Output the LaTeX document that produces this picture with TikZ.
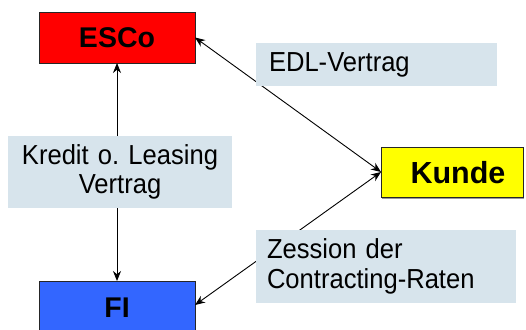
\documentclass[tikz,border=0pt]{standalone}
\usepackage{fontspec}
\setmainfont{Liberation Sans}
\newfontfamily\notefont[FakeStretch=0.93]{Liberation Sans}
\usetikzlibrary{arrows.meta,shadows}
\definecolor{escored}{HTML}{FF0000}
\definecolor{kundeyellow}{HTML}{FFFF00}
\definecolor{fiblue}{HTML}{3366FF}
\definecolor{notebg}{HTML}{D7E4EC}
\frenchspacing
\tikzset{
  party/.style={draw=black!85, line width=0.8pt, inner sep=0pt, outer sep=0pt,
    anchor=north west, font=\fontsize{28.5}{30}\selectfont\bfseries},
  note/.style={fill=notebg, draw=none, inner sep=0pt, outer sep=0pt,
    anchor=north west, font=\notefont\fontsize{27.5}{29.5}\selectfont},
  flow/.style={line width=0.9pt, {Stealth[length=10pt,width=8pt]}-{Stealth[length=10pt,width=8pt]}}
}
\begin{document}
\begin{tikzpicture}[x=1pt,y=-1pt]
\useasboundingbox (0,0) rectangle (526,329);
% parties
\node[party, fill=escored, minimum width=156pt, minimum height=51pt] (esco) at (39,12) {ESCo};
\node[party, fill=kundeyellow, minimum width=142pt, minimum height=50pt,
      font=\fontsize{30.5}{32}\selectfont\bfseries,
      drop shadow={shadow xshift=1.2pt, shadow yshift=-1.5pt, fill=black!50, opacity=0.8},
      text depth=0pt] (kunde) at (381,147) {\hspace*{12pt}Kunde};
\node[party, fill=fiblue, minimum width=156pt, minimum height=54pt] (fi) at (39,281) {FI};
% connectors
\draw[flow] (esco.south) -- (fi.north);
\draw[flow] (esco.east) -- (kunde.west);
\draw[flow] ([yshift=3pt]fi.east) -- (kunde.west);
% contract labels (drawn over the connectors)
\node[note, minimum width=224pt, minimum height=72pt, text width=224pt, align=center] (kredit) at (8,136)
  {Kredit o. Leasing\\Vertrag};
\node[note, minimum height=43pt, text width=215pt, inner xsep=13pt, align=left] (edl) at (256,43)
  {EDL-Vertrag};
\node[note, minimum height=73pt, text width=238pt, inner xsep=11pt, align=left] (zession) at (256,230)
  {Zession der\\Contracting-Raten};
\end{tikzpicture}
\end{document}
